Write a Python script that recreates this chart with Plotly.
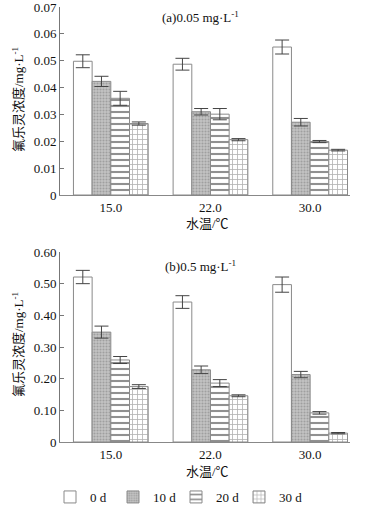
import plotly.graph_objects as go
from plotly.subplots import make_subplots

temps = ["15.0", "22.0", "30.0"]
series = ["0 d", "10 d", "20 d", "30 d"]

# (a) 0.05 mg/L
a_vals = {
    "0 d": [0.0498, 0.0487, 0.0551],
    "10 d": [0.0423, 0.0310, 0.0271],
    "20 d": [0.0360, 0.0301, 0.0199],
    "30 d": [0.0266, 0.0206, 0.0167],
}
a_err = {
    "0 d": [0.0024, 0.0022, 0.0026],
    "10 d": [0.0019, 0.0012, 0.0014],
    "20 d": [0.0026, 0.0021, 0.0004],
    "30 d": [0.0006, 0.0004, 0.0003],
}
# (b) 0.5 mg/L
b_vals = {
    "0 d": [0.521, 0.442, 0.497],
    "10 d": [0.347, 0.228, 0.213],
    "20 d": [0.259, 0.186, 0.092],
    "30 d": [0.175, 0.146, 0.028],
}
b_err = {
    "0 d": [0.021, 0.020, 0.024],
    "10 d": [0.019, 0.012, 0.010],
    "20 d": [0.011, 0.011, 0.004],
    "30 d": [0.006, 0.003, 0.002],
}
a_ticks = [0, 0.01, 0.02, 0.03, 0.04, 0.05, 0.06, 0.07]
a_ticktext = ["0", "0.01", "0.02", "0.03", "0.04", "0.05", "0.06", "0.07"]
b_ticks = [0, 0.1, 0.2, 0.3, 0.4, 0.5, 0.6]
b_ticktext = ["0", "0.10", "0.20", "0.30", "0.40", "0.50", "0.60"]

styles = {
    "0 d": dict(color="white", pattern=dict(shape="")),
    "10 d": dict(color="#b4b4b4", pattern=dict(shape=".", fgcolor="#7a7a7a", bgcolor="#c4c4c4", size=3, solidity=0.4)),
    "20 d": dict(color="white", pattern=dict(shape="-", fgcolor="#222222", bgcolor="white", size=6, solidity=0.35)),
    "30 d": dict(color="white", pattern=dict(shape="+", fgcolor="#666666", bgcolor="white", size=5, solidity=0.3)),
}

FONT = "Liberation Serif, 'Noto Sans CJK SC', serif"

fig = make_subplots(rows=2, cols=1)
for s in series:
    st = styles[s]
    for row, vals, errs in [(1, a_vals, a_err), (2, b_vals, b_err)]:
        fig.add_trace(go.Bar(
            x=temps, y=vals[s], name=s, showlegend=(row == 2),
            legendgroup=s,
            marker=dict(color=st["color"], pattern=st["pattern"],
                        line=dict(color="#8a8a8a", width=1)),
            error_y=dict(type="data", array=errs[s], color="#444", thickness=1, width=7),
        ), row=row, col=1)

H = 509
top_px, bot_px = 7, 442
ph = bot_px - top_px
def py(y):
    return (bot_px - y) / ph

fig.update_layout(
    width=369, height=H,
    margin=dict(l=60, r=19, t=top_px, b=H - bot_px, autoexpand=False),
    plot_bgcolor="white", paper_bgcolor="white",
    barmode="group", bargap=0.25, bargroupgap=0,
    font=dict(family=FONT, size=13, color="#111"),
    legend=dict(orientation="h", x=(50 - 60) / 290, xanchor="left", y=py(482), yanchor="top",
                font=dict(size=13), itemwidth=30, entrywidth=18, entrywidthmode="pixels",
                traceorder="normal", tracegroupgap=0),
)
fig.update_layout(
    yaxis=dict(domain=[py(195), 1]),
    yaxis2=dict(domain=[0, py(252)]),
)
for r, tv, tt, rng in [(1, a_ticks, a_ticktext, [0, 0.07]), (2, b_ticks, b_ticktext, [0, 0.6])]:
    fig.update_yaxes(range=rng, tickvals=tv, ticktext=tt, showgrid=False, zeroline=False,
                     showline=True, linecolor="#777", linewidth=1, ticks="inside", ticklen=4,
                     tickcolor="#777", tickfont=dict(size=13), ticklabeloverflow="allow",
                     row=r, col=1)
    fig.update_xaxes(range=[-0.51, 2.4], showgrid=False, showline=True, linecolor="#888",
                     linewidth=1, ticks="", tickfont=dict(size=13), row=r, col=1)

ann = [
    dict(text="(a)0.05 mg·L<sup>-1</sup>", x=200, y=17),
    dict(text="(b)0.5 mg·L<sup>-1</sup>", x=200, y=266),
    dict(text="水温/℃", x=207, y=223),
    dict(text="水温/℃", x=207, y=472),
]
for a in ann:
    fig.add_annotation(text=a["text"], xref="paper", yref="paper",
                       x=(a["x"] - 60) / 290, y=py(a["y"]), showarrow=False,
                       xanchor="center", yanchor="middle", font=dict(size=13, family=FONT))
for yc in [100, 345]:
    fig.add_annotation(text="氟乐灵浓度/mg·L<sup>-1</sup>", xref="paper", yref="paper",
                       x=(18 - 60) / 290, y=py(yc), showarrow=False, textangle=-90,
                       xanchor="center", yanchor="middle", font=dict(size=13, family=FONT))

fig.write_html("out.html", config={"displayModeBar": False},
               post_script="document.body.style.margin='0';document.body.style.overflow='hidden';")
